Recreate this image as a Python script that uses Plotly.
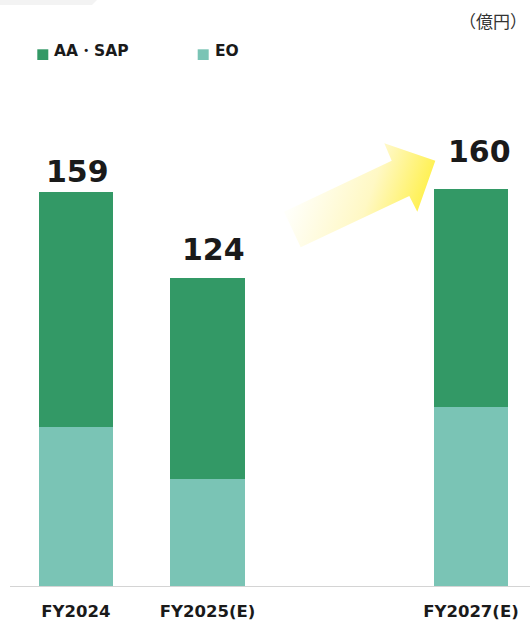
import base64
import plotly.graph_objects as go

# Revenue by segment (億円)
categories = ["FY2024", "FY2025(E)", "FY2026(E)", "FY2027(E)"]
bar_years = ["FY2024", "FY2025(E)", "FY2027(E)"]
eo_values = [64, 43, 72]
aa_sap_values = [95, 81, 88]
totals = [159, 124, 160]
series_names = ["AA・SAP", "EO"]

COLOR_AA = "#339966"
COLOR_EO = "#7AC4B5"
TEXT = "#1a1a1a"
FONT = "DejaVu Sans"

W, H = 530, 620
ML, MR, MT, MB = 10, 0, 20, 34
PX_PER_UNIT = 2.48
plot_w = W - ML - MR
plot_h = H - MT - MB
band = 131.7  # pixel width of one category band

def px_x(px):
    return (px - ML) / plot_w

def px_y(py):
    return (H - MB - py) / plot_h

fig = go.Figure()
fig.add_trace(go.Bar(x=bar_years, y=eo_values, name=series_names[1],
                     marker=dict(color=COLOR_EO, line=dict(width=0)), width=0.565))
fig.add_trace(go.Bar(x=bar_years, y=aa_sap_values, name=series_names[0],
                     marker=dict(color=COLOR_AA, line=dict(width=0)), width=0.565))

# total labels, nudged individually
label_shift = [(1.3, 20.3), (6.1, 29.4), (8.2, 37.5)]
for cat, tot, (dx, dy) in zip(bar_years, totals, label_shift):
    fig.add_annotation(x=cat, y=tot, xref="x", yref="y", text=str(tot),
                       showarrow=False, xanchor="center", yanchor="middle",
                       xshift=dx, yshift=dy,
                       font=dict(family=FONT, size=30, color=TEXT, weight="bold"))

# hand-made legend
legend_items = [(series_names[0], COLOR_AA, 37.3), (series_names[1], COLOR_EO, 197.7)]
for name, col, x0 in legend_items:
    fig.add_shape(type="rect", xref="paper", yref="paper",
                  x0=px_x(x0), x1=px_x(x0 + 11), y0=px_y(60), y1=px_y(49.3),
                  fillcolor=col, line=dict(width=0))
    fig.add_annotation(xref="paper", yref="paper", x=px_x(x0 + 15), y=px_y(51.5),
                       text=name, showarrow=False, xanchor="left", yanchor="middle",
                       font=dict(family=FONT, size=15.5, color=TEXT, weight="bold"))

# unit note
fig.add_annotation(xref="paper", yref="paper", x=px_x(529), y=px_y(20),
                   text="（億円）", showarrow=False, xanchor="right", yanchor="middle",
                   font=dict(family="Noto Sans CJK JP", size=17, color="#333333"))

# faint tab in the top-left corner
fig.add_shape(type="path", xref="paper", yref="paper",
              path=f"M {px_x(0)},{px_y(0)} L {px_x(97)},{px_y(0)} L {px_x(92)},{px_y(5)} L {px_x(0)},{px_y(5)} Z",
              fillcolor="#f3f3f3", line=dict(width=0), layer="below")

# growth arrow with a yellow gradient
ax0, ay0, ax1, ay1 = 282, 141, 438, 250
pts = [(284, 211.7), (391.7, 160.7), (384.3, 143.3), (435.3, 160.7),
       (417.3, 211.7), (409.3, 196), (300.7, 247.3)]
poly = " ".join(f"{x - ax0:.1f},{y - ay0:.1f}" for x, y in pts)
svg = f"""<svg xmlns="http://www.w3.org/2000/svg" width="{ax1-ax0}" height="{ay1-ay0}" viewBox="0 0 {ax1-ax0} {ay1-ay0}">
<defs><linearGradient id="g" gradientUnits="userSpaceOnUse" x1="{300-ax0}" y1="{178-ay0}" x2="{422-ax0}" y2="{222-ay0}">
<stop offset="0" stop-color="#FFFFFA"/><stop offset="0.55" stop-color="#FFF8C4"/><stop offset="1" stop-color="#FFF044"/>
</linearGradient></defs>
<polygon points="{poly}" fill="url(#g)"/></svg>"""
src = "data:image/svg+xml;base64," + base64.b64encode(svg.encode()).decode()
fig.add_layout_image(source=src, xref="paper", yref="paper",
                     x=px_x(ax0), y=px_y(ay0), sizex=(ax1 - ax0) / plot_w,
                     sizey=(ay1 - ay0) / plot_h, xanchor="left", yanchor="top",
                     sizing="stretch", layer="above")

fig.update_layout(
    width=W, height=H, barmode="stack", bargap=0.44, showlegend=False,
    margin=dict(l=ML, r=MR, t=MT, b=MB),
    paper_bgcolor="white", plot_bgcolor="white",
    font=dict(family=FONT, color=TEXT),
    xaxis=dict(type="category", categoryorder="array", categoryarray=categories,
               range=[-0.5, -0.5 + plot_w / band],
               tickmode="array", tickvals=bar_years, ticktext=bar_years,
               showline=True, linecolor="#d4d4d4", linewidth=1,
               showgrid=False, zeroline=False, ticks="", ticklabelstandoff=10,
               tickfont=dict(family=FONT, size=16.5, color=TEXT, weight="bold"),
               automargin=False, fixedrange=True),
    yaxis=dict(range=[0, plot_h / PX_PER_UNIT], visible=False,
               showgrid=False, zeroline=False, automargin=False, fixedrange=True),
)

fig.write_html("out.html", config={"displayModeBar": False})
